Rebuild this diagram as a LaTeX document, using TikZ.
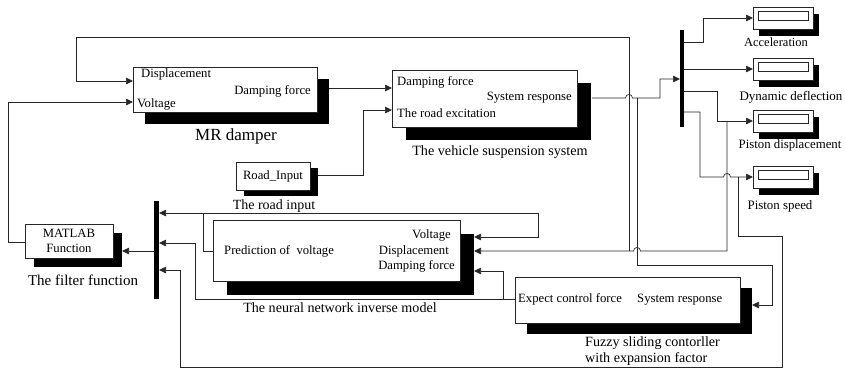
\documentclass[tikz,border=0pt]{standalone}
\usepackage{fontspec}
\setmainfont{Liberation Serif}
\usetikzlibrary{arrows.meta,shadows,calc}

\tikzset{
  wire/.style={draw=black!85, line width=0.7pt},
  sig/.style={wire, -{Triangle[length=7pt,width=6.5pt]}},
  blk/.style={draw=black!85, line width=0.7pt, fill=white, inner sep=0pt, outer sep=0pt},
  sh/.style 2 args={general shadow={fill=black, shadow xshift=#1pt, shadow yshift=-#2pt}},
  bus/.style={fill=black, inner sep=0pt, outer sep=0pt, minimum width=4.5pt},
  ptxt/.style={inner sep=0pt, font=\fontsize{12.7}{15}\selectfont},
  lbl/.style={inner sep=0pt, font=\fontsize{#1}{16}\selectfont},
}

\begin{document}
\begin{tikzpicture}[x=1pt, y=-1pt]
\useasboundingbox (0,0) rectangle (845,373);

% ---------- blocks ----------
\node[blk, sh={12}{12}, minimum width=184pt, minimum height=45pt] (mr) at (225,89.5) {};
\node[blk, sh={14}{13}, minimum width=185pt, minimum height=57pt] (veh) at (484.5,98.5) {};
\node[blk, sh={8}{6}, minimum width=74pt, minimum height=28pt, ptxt] (road) at (273,176) {Road\_Input};
\node[blk, sh={9}{9}, minimum width=88pt, minimum height=34pt, ptxt, align=center] (mat) at (69,241) {MATLAB\\Function};
\node[blk, sh={14}{14}, minimum width=247pt, minimum height=61pt] (nn) at (336.5,250.5) {};
\node[blk, sh={12}{11}, minimum width=225pt, minimum height=46pt] (fz) at (627.5,300) {};

% scopes
\foreach \n/\yy in {acc/18, dyn/69, pd/121, ps/177}{
  \node[blk, sh={6}{7}, minimum width=60pt, minimum height=22pt] (\n) at (783,\yy) {};
  \draw[wire] ($(\n.center)+(-25,-7)$) rectangle ($(\n.center)+(25,2)$);
}

% bus bars
\node[bus, minimum height=97pt] (bus1) at (682,78.5) {};
\node[bus, minimum height=98pt] (bus2) at (156.5,250) {};

% ---------- port texts ----------
\node[ptxt, anchor=west] (mr-t1) at (141,74) {Displacement};
\node[ptxt, anchor=east] (mr-t2) at (311,91) {Damping force};
\node[ptxt, anchor=west] (mr-t3) at (137,104) {Voltage};

\node[ptxt, anchor=west] (veh-t1) at (397,82) {Damping force};
\node[ptxt, anchor=east] (veh-t2) at (572,98) {System response};
\node[ptxt, anchor=west] (veh-t3) at (397,113) {The road excitation};

\node[ptxt, anchor=east] (nn-t1) at (451,235) {Voltage};
\node[ptxt, anchor=east] (nn-t2) at (449,251) {Displacement};
\node[ptxt, anchor=east] (nn-t3) at (455,266) {Damping force};
\node[ptxt, anchor=west] (nn-t4) at (224,251) {Prediction of\ \ voltage};

\node[ptxt, anchor=west] (fz-t1) at (518,299) {Expect control force};
\node[ptxt, anchor=west] (fz-t2) at (637,300) {System response};

% ---------- block captions ----------
\node[lbl=17] (mr-l) at (236,136) {MR damper};
\node[lbl=14.2] (veh-l) at (500,152) {The vehicle suspension system};
\node[lbl=14] (road-l) at (274,206) {The road input};
\node[lbl=15] (mat-l) at (83,280) {The filter function};
\node[lbl=14.1] (nn-l) at (340,308) {The neural network inverse model};
\node[lbl=14.1, anchor=west] (fz-l1) at (585,343) {Fuzzy sliding contorller};
\node[lbl=14.1, anchor=west] (fz-l2) at (585,359) {with expansion factor};
\node[lbl=12.5] (acc-l) at (776,42) {Acceleration};
\node[lbl=13] (dyn-l) at (791,97) {Dynamic deflection};
\node[lbl=12.8] (pd-l) at (790,145) {Piston displacement};
\node[lbl=12.9] (ps-l) at (780,206) {Piston speed};

% ---------- ports ----------
\coordinate (mr-in1) at (133,81);
\coordinate (mr-in2) at (133,102);
\coordinate (mr-out) at (329,88);
\coordinate (veh-in1) at (392,88);
\coordinate (veh-in2) at (392,110);
\coordinate (veh-out) at (592,98);
\coordinate (road-out) at (318,175);
\coordinate (mat-in) at (122,251);
\coordinate (mat-out) at (25,242);
\coordinate (nn-in1) at (474,237);
\coordinate (nn-in2) at (474,251);
\coordinate (nn-in3) at (474,271);
\coordinate (nn-out) at (213,251);
\coordinate (fz-in) at (752,305);
\coordinate (fz-out) at (515,299);
\coordinate (b1-in) at (680,79);
\coordinate (b1-o1) at (684,42);
\coordinate (b1-o2) at (684,69);
\coordinate (b1-o3) at (684,91);
\coordinate (b1-o4) at (684,112);
\coordinate (b2-in1) at (159,213);
\coordinate (b2-in2) at (159,243);
\coordinate (b2-in3) at (159,270);
\coordinate (b2-out) at (154,251);
\coordinate (acc-in) at (753,18);
\coordinate (dyn-in) at (753,69);
\coordinate (pd-in) at (753,121);
\coordinate (ps-in) at (753,177);
% branch points
\coordinate (j-sr) at (637,98);
\coordinate (j-pd) at (727,121);
\coordinate (j-ps) at (738,177);
\coordinate (j-dsp) at (629,251);
\coordinate (j-pv) at (203,213);
\coordinate (j-fc) at (503,299);

% ---------- connectors ----------
\draw[sig] (mr-out) -- (veh-in1);
\draw[sig] (road-out) -- (363,175) -- (363,110) -- (veh-in2);
\draw[sig] (veh-out) -- (625.5,98) .. controls (625.5,93.3) and (632.5,93.3) .. (632.5,98)
  -- (660,98) -- (660,79) -- (b1-in);
\draw[sig] (j-sr) -- (637,265) -- (772,265) -- (772,305) -- (fz-in);

\draw[sig] (b1-o1) -- (703,42) -- (703,18) -- (acc-in);
\draw[sig] (b1-o2) -- (dyn-in);
\draw[sig] (b1-o3) -- (717,91) -- (717,121) -- (pd-in);
\draw[sig] (b1-o4) -- (700,112) -- (700,177) -- (723.5,177)
  .. controls (723.5,172.3) and (730.5,172.3) .. (730.5,177) -- (ps-in);

\draw[sig] (j-pd) -- (727,251) -- (640.5,251)
  .. controls (640.5,246.3) and (633.5,246.3) .. (633.5,251) -- (nn-in2);
\draw[sig] (j-dsp) -- (629,37) -- (76,37) -- (76,81) -- (mr-in1);

\draw[sig] (mat-out) -- (8,242) -- (8,102) -- (mr-in2);
\draw[sig] (b2-out) -- (mat-in);

\draw[sig] (nn-out) -- (203,251) -- (j-pv) -- (b2-in1);
\draw[sig] (j-pv) -- (538,213) -- (538,237) -- (nn-in1);

\draw[sig] (fz-out) -- (195,299) -- (195,243) -- (b2-in2);
\draw[sig] (j-fc) -- (503,271) -- (nn-in3);

\draw[sig] (j-ps) -- (738,236) -- (782,236) -- (782,367) -- (180,367) -- (180,270) -- (b2-in3);

\end{tikzpicture}
\end{document}
